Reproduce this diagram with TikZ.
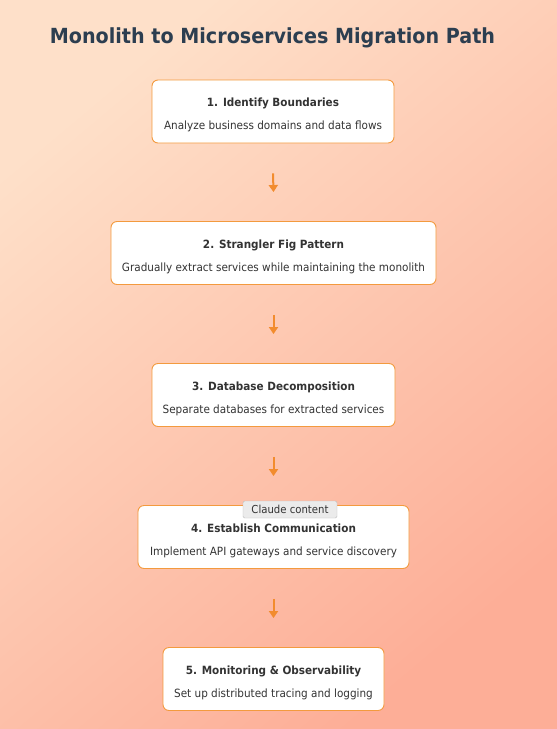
\documentclass[tikz,border=0pt]{standalone}
\usepackage{fontspec}
\setmainfont[FakeStretch=0.92]{DejaVu Sans}
\usetikzlibrary{arrows.meta}
\definecolor{bgA}{HTML}{FEE0C9}
\definecolor{bgB}{HTML}{FDAE97}
\definecolor{titlec}{HTML}{2C3E50}
\definecolor{boxborder}{HTML}{F39A3E}
\definecolor{arrowc}{HTML}{F28C2E}
\definecolor{txt}{HTML}{333333}
\tikzset{
  stepbox/.style={draw=boxborder, line width=0.9pt, fill=white, rounded corners=6pt,
    minimum height=63pt, inner sep=0pt},
  steptext/.style={align=center, text=txt, inner sep=0pt, font=\fontsize{11.35}{23}\selectfont},
  flowarrow/.style={draw=arrowc, line width=2pt, -{Triangle[width=9pt,length=7pt]}},
  tip/.style={draw=black!25, fill=black!8, rounded corners=1.5pt, text=txt,
    minimum width=94pt, minimum height=17pt, inner sep=0pt, font=\fontsize{11}{12}\selectfont}
}
\begin{document}
\begin{tikzpicture}[x=1pt,y=-1pt]
\useasboundingbox (0,0) rectangle (557,729);
\shade[top color=bgA, bottom color=bgB, shading angle=40] (0,0) rectangle (557,729);
\node[text=titlec, font=\bfseries\fontsize{20.8}{24}\selectfont] (title) at (272.5,38) {Monolith to Microservices Migration Path};
\node[stepbox, minimum width=242pt] (b1) at (273,111.5) {};
\node[stepbox, minimum width=325pt] (b2) at (273.5,253) {};
\node[stepbox, minimum width=243pt] (b3) at (273.5,395) {};
\node[stepbox, minimum width=271pt] (b4) at (273.5,537) {};
\node[stepbox, minimum width=221pt] (b5) at (273.5,679) {};
\node[steptext] (t1) at ([yshift=-3.5pt]b1.center) {\textbf{1. Identify Boundaries}\\Analyze business domains and data flows};
\node[steptext] (t2) at ([yshift=-3.5pt]b2.center) {\textbf{2. Strangler Fig Pattern}\\Gradually extract services while maintaining the monolith};
\node[steptext] (t3) at ([yshift=-3.5pt]b3.center) {\textbf{3. Database Decomposition}\\Separate databases for extracted services};
\node[steptext] (t4) at ([yshift=-3.5pt]b4.center) {\textbf{4. Establish Communication}\\Implement API gateways and service discovery};
\node[steptext] (t5) at ([yshift=-3.5pt]b5.center) {\textbf{5. Monitoring \& Observability}\\Set up distributed tracing and logging};
\draw[flowarrow] ([yshift=-30pt]b1.south) -- ([yshift=29pt]b2.north);
\draw[flowarrow] ([yshift=-30pt]b2.south) -- ([yshift=29pt]b3.north);
\draw[flowarrow] ([yshift=-30pt]b3.south) -- ([yshift=29pt]b4.north);
\draw[flowarrow] ([yshift=-30pt]b4.south) -- ([yshift=29pt]b5.north);
\node[tip] (tooltip) at (290,509.5) {Claude content};
\end{tikzpicture}
\end{document}
